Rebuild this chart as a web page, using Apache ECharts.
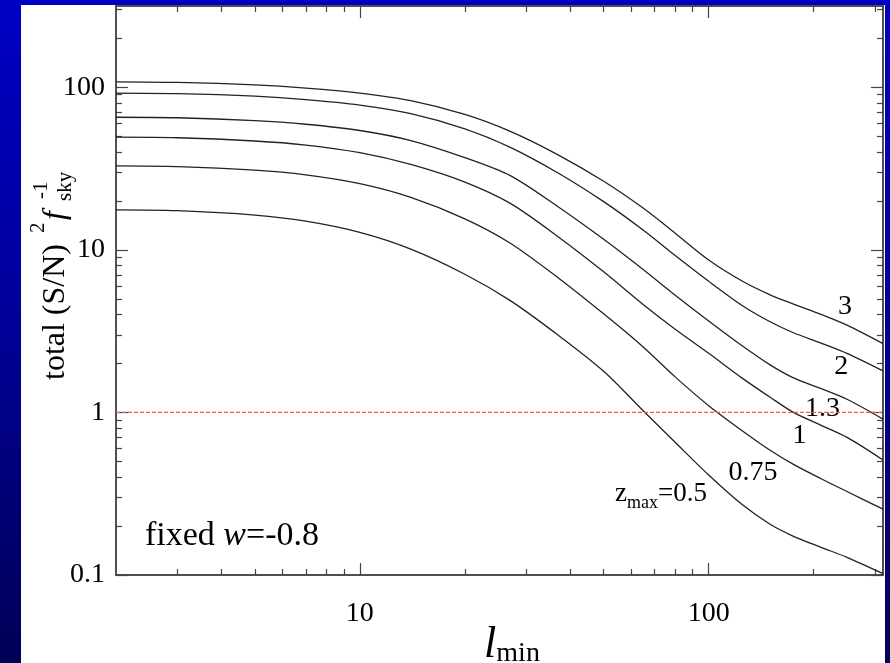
<!DOCTYPE html>
<html>
<head>
<meta charset="utf-8">
<script src="https://cdn.jsdelivr.net/npm/echarts@6/dist/echarts.min.js"></script>
<style>
  html, body { margin: 0; padding: 0; width: 890px; height: 663px; overflow: hidden;
    background: linear-gradient(to bottom, #0000c4 0%, #00009c 45%, #000056 100%); }
  #main { position: absolute; left: 21px; top: 5px; width: 864px; height: 658px; background: #fff; }
</style>
</head>
<body>
<div id="main"></div>
<script>
// l_min sample points and total (S/N)^2 / f_sky for each z_max
var lmin = [2, 3, 5, 7, 10, 14, 20, 27, 37, 50, 65, 80, 100, 125, 150, 175, 210, 250, 316];
var z3   = [108, 107.1, 103.4, 98.9, 92.1, 82.7, 68.0, 53.5, 38.4, 26.4, 18.0, 12.7, 8.66, 6.41, 5.29, 4.64, 4.01, 3.43, 2.65];
var z2   = [92, 91.3, 88.1, 84.0, 77.7, 68.8, 55.5, 42.7, 29.7, 19.8, 13.2, 9.25, 6.40, 4.53, 3.61, 3.09, 2.67, 2.30, 1.80];
var z13  = [65.4, 64.9, 62.3, 59.2, 54.2, 47.0, 36.9, 28.6, 18.4, 11.6, 7.54, 5.28, 3.65, 2.56, 1.96, 1.63, 1.40, 1.20, 0.909];
var z1   = [49.3, 48.9, 46.7, 44.1, 39.6, 33.5, 26.1, 19.3, 12.05, 7.33, 4.60, 3.26, 2.31, 1.62, 1.24, 1.0, 0.833, 0.70, 0.51];
var z075 = [32.8, 32.5, 30.9, 28.9, 25.5, 21.0, 15.5, 10.98, 6.74, 4.04, 2.52, 1.66, 1.10, 0.769, 0.585, 0.479, 0.391, 0.325, 0.254];
var z05  = [17.6, 17.4, 16.35, 15.0, 12.8, 10.1, 7.08, 4.87, 2.99, 1.79, 1.02, 0.658, 0.412, 0.27, 0.205, 0.173, 0.148, 0.128, 0.102];

// curve labels: [l, value, text]
var curveLabels = [
  [246, 4.47, '3'],
  [240, 1.91, '2'],
  [212, 1.05, '1.3'],
  [182, 0.72, '1'],
  [134, 0.426, '0.75'],
  [73, 0.32, '{n|z}{s|max}{n|=0.5}']
];

var xMajor = [10, 100];
var xMinor = [3, 4, 5, 6, 7, 8, 9, 20, 30, 40, 50, 60, 70, 80, 90, 200, 300];
var yMajor = [0.1, 1, 10, 100];
var yMinor = [0.2, 0.3, 0.4, 0.5, 0.6, 0.7, 0.8, 0.9, 2, 3, 4, 5, 6, 7, 8, 9,
              20, 30, 40, 50, 60, 70, 80, 90, 200, 300];
var xRange = [2, 316];
var yRange = [0.1, 316];

var serif = 'Liberation Serif, Times New Roman, serif';
var axisCol = '#444';

function axis(pos, range, ticks, len, labels) {
  var a = {
    type: 'log', logBase: 10, position: pos, min: range[0], max: range[1],
    axisLine: { show: true, onZero: false, lineStyle: { color: axisCol, width: 1.5 } },
    axisTick: { show: true, inside: true, length: len, customValues: ticks,
                lineStyle: { color: axisCol, width: 1.2 } },
    axisLabel: { show: false },
    splitLine: { show: false }
  };
  if (labels) {
    a.axisLabel = {
      show: true, customValues: labels, color: '#000', fontFamily: serif, fontSize: 28,
      margin: (pos === 'left') ? 11 : 25,
      formatter: function (v) { return v < 1 ? v.toFixed(1) : String(Math.round(v)); }
    };
  }
  return a;
}

var chart = echarts.init(document.getElementById('main'));

var series = [z3, z2, z13, z1, z075, z05].map(function (arr) {
  return {
    type: 'line', smooth: 0.3, symbol: 'none', silent: true,
    lineStyle: { color: '#222', width: 1.3 },
    data: lmin.map(function (l, i) { return [l, arr[i]]; })
  };
});

series.push({
  type: 'line', symbol: 'none', silent: true,
  lineStyle: { color: '#f25a5a', width: 1.2, type: [4, 2] },
  data: [[xRange[0], 1], [xRange[1], 1]]
});

var plain = { fontFamily: serif, color: '#000', textBorderWidth: 0 };
series.push({
  type: 'scatter', symbolSize: 0, silent: true,
  itemStyle: { color: '#000', opacity: 1 },
  data: curveLabels,
  label: {
    show: true, position: 'inside', color: '#000', opacity: 1, fontFamily: serif, fontSize: 28,
    textBorderWidth: 0,
    formatter: function (p) { return p.data[2]; },
    rich: {
      n: Object.assign({ fontSize: 27, verticalAlign: 'bottom', lineHeight: 30 }, plain),
      s: Object.assign({ fontSize: 18, verticalAlign: 'bottom', lineHeight: 18, padding: [0, 0, -4, 0] }, plain)
    }
  }
});

var yTitle = {
  type: 'group', x: 46, y: 375, rotation: Math.PI / 2,
  children: [
    { type: 'text', x: 0, y: -11, style: { text: 'total (S/N)', font: '32px ' + serif, fill: '#000', verticalAlign: 'middle' } },
    { type: 'text', x: 147, y: -29, style: { text: '2', font: '21px ' + serif, fill: '#000', verticalAlign: 'middle' } },
    { type: 'text', x: 160, y: -11, style: { text: 'f', font: 'italic 32px ' + serif, fill: '#000', verticalAlign: 'middle' } },
    { type: 'text', x: 179, y: -2, style: { text: 'sky', font: '21px ' + serif, fill: '#000', verticalAlign: 'middle' } },
    { type: 'text', x: 181, y: -26, style: { text: '-1', font: '21px ' + serif, fill: '#000', verticalAlign: 'middle' } }
  ]
};

var option = {
  animation: false,
  backgroundColor: '#fff',
  grid: { left: 95, right: 2, top: 1, bottom: 88, containLabel: false },
  xAxis: [
    axis('bottom', xRange, xMajor, 12, xMajor),
    axis('bottom', xRange, xMinor, 6, null),
    axis('top', xRange, xMajor, 12, null),
    axis('top', xRange, xMinor, 6, null)
  ],
  yAxis: [
    axis('left', yRange, yMajor, 12, yMajor),
    axis('left', yRange, yMinor, 6, null),
    axis('right', yRange, yMajor, 12, null),
    axis('right', yRange, yMinor, 6, null)
  ],
  series: series,
  graphic: [
    yTitle,
    {
      type: 'text', x: 491, y: 662,
      style: {
        text: '{l|l}{m|min}', fill: '#000', align: 'center', verticalAlign: 'bottom',
        rich: {
          l: { fontFamily: serif, fontStyle: 'italic', fontSize: 44, verticalAlign: 'bottom', lineHeight: 44 },
          m: { fontFamily: serif, fontSize: 28, verticalAlign: 'bottom', lineHeight: 28, padding: [0, 0, -1, 0] }
        }
      }
    },
    {
      type: 'text', x: 124, y: 531,
      style: {
        text: '{n|fixed }{i|w}{n|=-0.8}', fill: '#000', verticalAlign: 'middle',
        rich: {
          n: { fontFamily: serif, fontSize: 34 },
          i: { fontFamily: serif, fontSize: 34, fontStyle: 'italic' }
        }
      }
    }
  ]
};

chart.setOption(option);
</script>
</body>
</html>
